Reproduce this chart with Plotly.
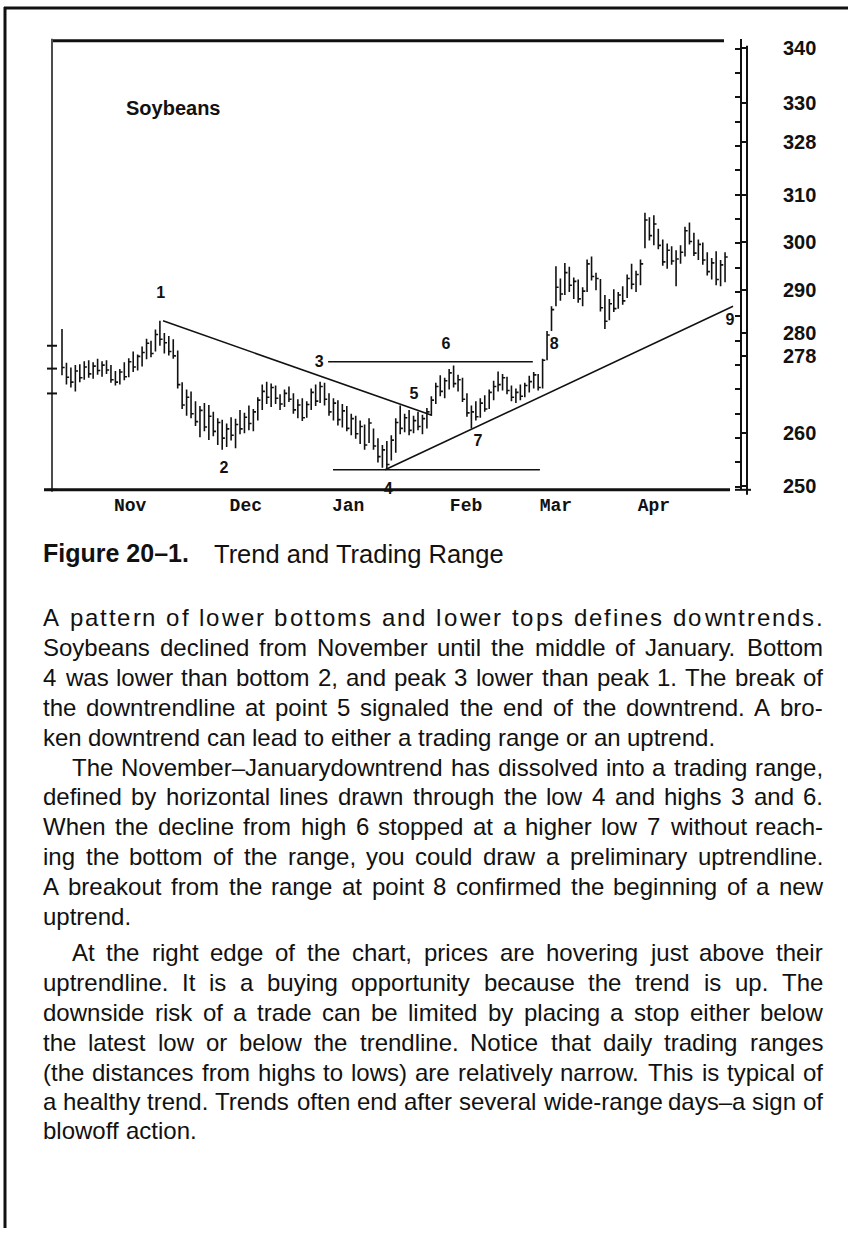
import plotly.graph_objects as go

W, H = 848, 1235

# ---------------- data ----------------
high = [282.4, 275.5, 274.5, 275.0, 275.2, 275.8, 276.0, 275.6, 276.3, 275.8,
        276.0, 275.0, 273.8, 274.2, 275.6, 276.4, 277.8, 277.2, 278.8, 280.4,
        280.0, 282.3, 284.1, 281.6, 281.0, 280.3, 278.0, 271.5, 270.0, 269.6,
        267.6, 266.6, 267.2, 266.8, 265.4, 264.1, 263.8, 263.0, 264.3, 264.0,
        265.8, 265.2, 266.7, 266.0, 268.4, 271.0, 271.6, 271.2, 270.8, 269.0,
        270.0, 270.6, 269.2, 268.0, 268.2, 267.6, 270.2, 271.0, 271.6, 271.4,
        269.2, 268.2, 267.8, 267.0, 266.6, 265.0, 264.6, 263.6, 262.8, 264.1,
        262.0, 260.0, 258.6, 259.4, 260.6, 264.1, 266.7, 265.0, 265.8, 264.6,
        265.4, 264.8, 266.2, 268.6, 271.4, 272.9, 272.4, 274.2, 274.9, 273.0,
        272.4, 269.2, 266.7, 267.6, 268.2, 268.8, 270.0, 271.8, 273.7, 273.2,
        272.6, 270.8, 270.2, 271.0, 271.4, 272.8, 273.6, 273.2, 276.3, 282.0,
        287.1, 295.3, 292.8, 296.0, 295.2, 293.0, 292.6, 291.0, 296.7, 297.3,
        294.0, 292.7, 289.4, 288.6, 290.6, 290.0, 291.2, 293.6, 295.8, 294.4,
        296.7, 306.3, 305.4, 305.8, 303.0, 300.8, 300.0, 299.4, 298.6, 299.6,
        303.4, 304.3, 302.2, 300.8, 300.2, 298.2, 297.0, 298.4, 296.6, 298.2]
low = [272.9, 271.0, 270.4, 269.6, 271.5, 272.0, 272.4, 272.2, 273.0, 272.6,
       273.2, 271.4, 270.8, 271.0, 271.9, 272.5, 273.6, 273.9, 274.7, 276.2,
       276.6, 277.8, 279.0, 277.4, 277.0, 276.3, 270.2, 266.0, 264.6, 264.1,
       262.5, 260.2, 261.4, 259.6, 260.4, 258.6, 257.6, 258.2, 259.5, 257.9,
       260.8, 261.0, 261.6, 261.4, 263.6, 265.8, 267.0, 266.4, 267.0, 265.8,
       266.4, 267.4, 265.0, 264.1, 263.5, 264.2, 265.8, 266.6, 267.2, 266.7,
       264.6, 263.6, 262.6, 262.2, 261.4, 260.6, 259.9, 258.8, 257.6, 259.0,
       257.6, 255.0, 253.9, 253.5, 255.4, 257.0, 260.8, 261.2, 260.6, 261.0,
       261.6, 260.8, 262.0, 264.6, 267.0, 268.6, 268.2, 270.0, 270.4, 269.6,
       267.4, 264.4, 262.0, 263.6, 264.2, 265.4, 266.0, 267.8, 269.6, 269.8,
       269.0, 267.6, 267.2, 267.8, 268.4, 269.4, 270.2, 269.8, 270.2, 276.0,
       282.0, 287.1, 288.2, 289.4, 290.0, 288.6, 287.8, 287.1, 290.0, 292.4,
       290.4, 286.0, 282.4, 284.2, 285.9, 286.6, 287.4, 288.8, 290.6, 290.0,
       291.4, 299.0, 300.6, 299.6, 298.8, 295.4, 294.8, 295.6, 291.2, 295.8,
       297.3, 299.8, 297.4, 296.6, 295.6, 293.4, 292.6, 291.4, 291.2, 292.0]
close = [274.5, 272.5, 271.5, 273.8, 272.4, 274.6, 273.2, 274.8, 273.9, 275.0,
         274.0, 272.0, 271.5, 273.6, 272.6, 275.7, 274.6, 276.8, 277.6, 279.5,
         277.4, 281.3, 280.3, 279.6, 277.8, 276.9, 271.0, 266.8, 268.4, 265.0,
         263.4, 265.7, 262.3, 264.5, 261.4, 263.2, 260.0, 261.9, 260.6, 262.8,
         261.9, 264.3, 263.0, 265.4, 267.8, 269.6, 268.4, 270.4, 268.2, 267.0,
         269.2, 268.0, 265.8, 266.8, 264.2, 266.9, 269.4, 267.6, 270.6, 268.0,
         265.4, 267.2, 263.8, 265.6, 262.0, 264.0, 260.9, 262.4, 258.6, 263.1,
         258.4, 256.2, 257.6, 254.6, 259.6, 263.2, 262.0, 264.2, 261.6, 263.6,
         262.4, 264.0, 265.4, 267.8, 270.6, 269.6, 271.8, 273.4, 271.2, 272.0,
         268.0, 265.2, 265.4, 264.4, 267.2, 266.0, 269.4, 270.6, 271.0, 272.4,
         269.8, 268.4, 269.4, 268.6, 270.8, 271.6, 273.0, 270.4, 276.0, 281.2,
         286.4, 291.0, 289.6, 294.0, 291.4, 292.2, 288.6, 290.2, 295.8, 293.2,
         292.8, 286.8, 284.0, 287.6, 286.6, 289.4, 288.2, 292.8, 291.6, 293.6,
         295.8, 304.8, 301.6, 304.0, 299.6, 296.2, 298.6, 296.4, 296.8, 298.2,
         302.6, 300.4, 298.0, 299.8, 296.6, 294.2, 296.0, 292.6, 295.6, 297.2]

month_labels = ["Nov", "Dec", "Jan", "Feb", "Mar", "Apr"]
month_pos = [15.3, 41.3, 64.3, 90.8, 111.0, 133.0]

price_labels = ["340", "330", "328", "310", "300", "290", "280", "278", "260", "250"]
price_pos = [340.1, 328.8, 320.8, 310.0, 300.2, 290.4, 281.7, 276.8, 261.0, 250.2]

downtrend_x, downtrend_y = [22.7, 83.1], [284.1, 264.7]
range_top_x, range_top_y = [59.8, 105.8], [275.7, 275.7]
range_low_x, range_low_y = [60.9, 107.4], [253.5, 253.5]
uptrend_x, uptrend_y = [72.6, 150.8], [253.5, 287.1]

point_labels = ["1", "2", "3", "4", "5", "6", "7", "8", "9"]
point_x = [22.2, 36.4, 57.8, 73.3, 79.1, 86.3, 93.5, 110.6, 150.1]
point_y = [289.6, 253.7, 275.5, 249.4, 268.8, 279.2, 259.2, 279.2, 284.1]

caption_bold = "Figure 20\u20131."
caption_text = "Trend and Trading Range"

paragraphs = [
    ["A pattern of lower bottoms and lower tops defines downtrends.",
     "Soybeans declined from November until the middle of January. Bottom",
     "4 was lower than bottom 2, and peak 3 lower than peak 1. The break of",
     "the downtrendline at point 5 signaled the end of the downtrend. A bro-",
     "ken downtrend can lead to either a trading range or an uptrend."],
    ["The November\u2013Januarydowntrend has dissolved into a trading range,",
     "defined by horizontal lines drawn through the low 4 and highs 3 and 6.",
     "When the decline from high 6 stopped at a higher low 7 without reach-",
     "ing the bottom of the range, you could draw a preliminary uptrendline.",
     "A breakout from the range at point 8 confirmed the beginning of a new",
     "uptrend."],
    ["At the right edge of the chart, prices are hovering just above their",
     "uptrendline. It is a buying opportunity because the trend is up. The",
     "downside risk of a trade can be limited by placing a stop either below",
     "the latest low or below the trendline. Notice that daily trading ranges",
     "(the distances from highs to lows) are relatively narrow. This is typical of",
     "a healthy trend. Trends often end after several wide-range days\u2013a sign of",
     "blowoff action."],
]
line_centers = [621, 651, 681, 711, 741,
                772, 801, 831, 861, 891, 921,
                958, 988, 1018, 1048, 1078, 1108, 1137]

# ---------------- helpers ----------------
def px(x):
    return x / W

def py(y):
    return 1 - y / H

SANS = "Liberation Sans, Arial, Helvetica, sans-serif"
MONO = "Liberation Mono, DejaVu Sans Mono, monospace"
INK = "#111111"

AW = {' ': 278, '!': 278, '"': 355, '#': 556, '$': 556, '%': 889, '&': 667, "'": 191,
      '(': 333, ')': 333, '*': 389, '+': 584, ',': 278, '-': 333, '.': 278, '/': 278,
      ':': 278, ';': 278, '<': 584, '=': 584, '>': 584, '?': 556, '@': 1015,
      '[': 278, '\\': 278, ']': 278, '^': 469, '_': 556, '`': 333, '{': 334,
      '|': 260, '}': 334, '~': 584, '\u2013': 556}
for c in "0123456789":
    AW[c] = 556
AW.update(dict(zip("ABCDEFGHIJKLMNOPQRSTUVWXYZ",
                   [667, 667, 722, 722, 667, 611, 778, 722, 278, 500, 667, 556, 833,
                    722, 778, 667, 778, 722, 667, 611, 722, 667, 944, 667, 667, 611])))
AW.update(dict(zip("abcdefghijklmnopqrstuvwxyz",
                   [556, 556, 500, 556, 556, 278, 556, 556, 222, 222, 500, 222, 833,
                    556, 556, 556, 556, 333, 500, 278, 556, 500, 722, 500, 500, 500])))

def text_w(s, fs):
    return sum(AW.get(c, 556) for c in s) * fs / 1000.0

# ---------------- figure ----------------
fig = go.Figure()

bx, by = [], []
for i, (h, l, c) in enumerate(zip(high, low, close)):
    bx += [i, i, None, i, i + 0.6, None]
    by += [l, h, None, c, c, None]
fig.add_trace(go.Scatter(x=bx, y=by, mode="lines",
                         line=dict(color=INK, width=1.6),
                         hoverinfo="skip", showlegend=False))

for lx, ly in [(downtrend_x, downtrend_y), (range_top_x, range_top_y),
               (range_low_x, range_low_y), (uptrend_x, uptrend_y)]:
    fig.add_trace(go.Scatter(x=lx, y=ly, mode="lines",
                             line=dict(color=INK, width=1.6),
                             hoverinfo="skip", showlegend=False))

fig.add_trace(go.Scatter(x=point_x, y=point_y, mode="text", text=point_labels,
                         textfont=dict(family=SANS, size=16, color=INK, weight="bold"),
                         textposition="middle center", cliponaxis=False,
                         hoverinfo="skip", showlegend=False))

x0_px, x1_px = 52, 740
y0_px, y1_px = 38, 492
bar_px0, bar_step = 62.0, 4.45
xr = [(x0_px - bar_px0) / bar_step, (x1_px - bar_px0) / bar_step]
ppx = 4.9
yr = [250 + (489 - y1_px) / ppx, 250 + (489 - y0_px) / ppx]

fig.update_layout(
    width=W, height=H,
    margin=dict(l=0, r=0, t=0, b=0),
    paper_bgcolor="white", plot_bgcolor="rgba(0,0,0,0)",
    showlegend=False,
    xaxis=dict(domain=[px(x0_px), px(x1_px)], range=xr, showgrid=False, zeroline=False,
               showline=False, ticks="", tickmode="array", tickvals=month_pos,
               ticktext=month_labels,
               tickfont=dict(family=MONO, size=18, color=INK, weight="bold"),
               ticklabelstandoff=2, fixedrange=True),
    yaxis=dict(domain=[py(y1_px), py(y0_px)], range=yr, showgrid=False, zeroline=False,
               side="right", anchor="free", position=px(741),
               showline=True, linecolor=INK, linewidth=2,
               ticks="outside", ticklen=5, tickwidth=2, tickcolor=INK,
               tickmode="array", tickvals=price_pos, ticktext=price_labels,
               tickfont=dict(family=SANS, size=20, color=INK, weight="bold"),
               ticklabelstandoff=32,
               minor=dict(tickmode="linear", tick0=250, dtick=5, ticks="inside",
                          ticklen=5, tickwidth=2, tickcolor=INK),
               fixedrange=True),
)

shapes = []
def seg(xa, ya, xb, yb, w):
    shapes.append(dict(type="line", xref="paper", yref="paper", layer="below",
                       x0=px(xa), y0=py(ya), x1=px(xb), y1=py(yb),
                       line=dict(color=INK, width=w)))

# page border
seg(5, 6, 5, 1235, 3)
seg(4, 7, 848, 7, 3)
# chart frame
seg(53, 40, 724, 40, 3)
seg(52, 38, 52, 494, 1.5)
seg(44, 492, 730, 492, 3)
for ty in [347, 370, 395, 492]:
    seg(47, ty, 57, ty, 2)
seg(747, 45, 747, 497, 2)
seg(735, 492, 751, 492, 2)
fig.update_layout(shapes=shapes)

ann = []
def note(text, x, y, fs, bold=False, anchor="left", family=SANS):
    f = dict(family=family, size=fs, color=INK)
    if bold:
        f["weight"] = "bold"
    ann.append(dict(text=text, x=px(x), y=py(y), xref="paper", yref="paper",
                    showarrow=False, xanchor=anchor, yanchor="middle",
                    borderpad=0, font=f))

note("Soybeans", 173, 108, 20, bold=True, anchor="center")
note(caption_bold, 42, 556, 25, bold=True)
note(caption_text, 213, 557, 25.5)

# body text, justified (first line letter-spaced as in the scan)
FS = 24
LEFT, RIGHT, INDENT = 42, 822, 29
k = 0
for pi, para in enumerate(paragraphs):
    for li, line in enumerate(para):
        yy = line_centers[k]
        k += 1
        x_start = LEFT + (INDENT if (li == 0 and pi > 0) else 0)
        last = li == len(para) - 1
        if pi == 0 and li == 0:
            extra = (RIGHT - x_start - text_w(line, FS)) / (len(line) - 1)
            xc = x_start
            for ch in line:
                if ch != " ":
                    note(ch, xc, yy, FS)
                xc += text_w(ch, FS) + extra
            continue
        words = line.split(" ")
        if last or len(words) == 1:
            gap = text_w(" ", FS)
        else:
            nat = sum(text_w(wd, FS) for wd in words)
            gap = (RIGHT - x_start - nat) / (len(words) - 1)
        xc = x_start
        for wd in words:
            note(wd, xc, yy, FS)
            xc += text_w(wd, FS) + gap

fig.update_layout(annotations=ann)

fig.write_html("out.html",
               config={"displayModeBar": False, "staticPlot": True},
               post_script="document.body.style.margin='0px';"
                           "document.documentElement.style.overflow='hidden';")
